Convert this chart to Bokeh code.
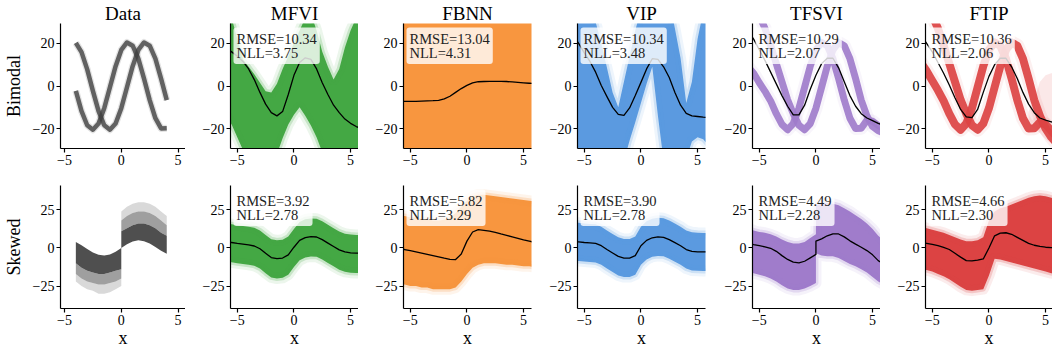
from bokeh.plotting import figure
from bokeh.layouts import gridplot
from bokeh.models import Range1d, FixedTicker, CustomJSTickFormatter, Label
from bokeh.embed import file_html
from bokeh.resources import INLINE

FONT = "Liberation Serif"

# ---------------- data ----------------
X = [-6.0, -5.5, -5.0, -4.5, -4.0, -3.5, -3.0, -2.5, -2.0, -1.5, -1.0, -0.5, 0.0,
     0.5, 1.0, 1.5, 2.0, 2.5, 3.0, 3.5, 4.0, 4.5, 5.0, 5.5, 6.0]
X_JUMP = [-6.0, -5.5, -5.0, -4.5, -4.0, -3.5, -3.0, -2.5, -2.0, -1.5, -1.0, -0.5, 0.0,
          0.0, 0.5, 1.0, 1.5, 2.0, 2.5, 3.0, 3.5, 4.0, 4.5, 5.0, 5.5, 6.0]

# Data panel (bimodal): the two noisy curves
DATA_X = [-4.0, -3.5, -3.0, -2.5, -2.0, -1.5, -1.0, -0.5, 0.0, 0.5, 1.0, 1.5, 2.0, 2.5, 3.0, 3.5, 4.0]
data_bimodal_a = [-2.3, -11.8, -18.4, -20.5, -17.6, -10.4, -0.6, 9.3, 16.9, 20.4, 18.9, 12.8, 3.5, -6.6, -15.1, -19.9, -19.8]
data_bimodal_b = [20.2, 15.9, 7.8, -2.3, -11.8, -18.4, -20.5, -17.6, -10.4, -0.6, 9.3, 16.9, 20.4, 18.9, 12.8, 3.5, -6.6]

# Data panel (skewed)
SKEW_LX = [-4.0, -3.5, -3.0, -2.5, -2.0, -1.5, -1.0, -0.5, 0.0]
skew_l_top = [4.0, 1.8, -0.7, -3.0, -4.5, -5.0, -4.2, -2.4, 0.0]
skew_l_core = [-10, -13, -15, -16, -17, -17, -16, -15, -14]
skew_l_mid = [-17, -20, -22, -23, -24, -24, -23, -22, -20]
skew_l_halo = [-22, -25, -27, -28, -30, -30, -29, -27, -25]
SKEW_RX = [0.0, 0.5, 1.0, 1.5, 2.0, 2.5, 3.0, 3.5, 4.0]
skew_r_bot = [0.0, 2.4, 4.2, 5.0, 4.5, 3.0, 0.7, -1.8, -3.8]
skew_r_core = [11, 13, 15, 16, 16, 15, 13, 10, 8]
skew_r_mid = [18, 21, 23, 24, 24, 23, 21, 18, 15]
skew_r_halo = [24, 27, 29, 30, 30, 29, 27, 24, 21]

# Bimodal row: predictive means and sample clouds
mfvi_top_mean = [18, 16, 14, 11.5, 8, 3, -3, -8.5, -12.5, -14, -12, -4, 5, 11, 13.2, 12.5, 8, 1.5, -4, -9, -12.5, -15.5, -17.5, -19, -20]
mfvi_top_hi = [40, 32, 22, 12.5, 9, 5.5, 1.5, -2.5, -3, 1, 8, 14, 20, 26, 32, 34, 26, 16, 9, 3, 8, 18, 26, 32, 36]
mfvi_top_lo = [-14, -18, -24, -30, -36, -40, -42, -42, -40, -32, -24.5, -18, -13.5, -10, -14, -18.5, -24, -31, -37, -40, -40, -38, -35, -32, -28]

fbnn_top_mean = [-7.2, -7.2, -7.2, -7.2, -7.1, -7, -6.9, -6.7, -6, -4.8, -3, -1.2, 0.3, 1.5, 2, 2.1, 2.2, 2.2, 2.2, 2.1, 1.9, 1.7, 1.5, 1.3, 1.1]
fbnn_top_hi = [35, 35, 35, 35, 35, 35, 35, 35, 35, 35, 35, 35, 35, 35, 35, 35, 35, 35, 35, 35, 35, 35, 35, 35, 35]
fbnn_top_lo = [-35, -35, -35, -35, -35, -35, -35, -35, -35, -35, -35, -35, -35, -35, -35, -35, -35, -35, -35, -35, -35, -35, -35, -35, -35]

vip_top_mean = [24, 20, 15.5, 11.5, 6.5, 0.2, -5, -10, -13.3, -13.8, -10.3, -4.5, 1.7, 8, 12.8, 12.5, 9, 4, -3, -9, -12.8, -14, -14.3, -14.6, -14.8]
vip_top_hi = [45, 42, 38, 34, 30, 20, 8.5, -3, -10, 2, 14, 26, 36, 42, 45, 45, 44, 40, 27, 13, -8, 2, 22, 35, 45]
vip_top_lo = [-40, -40, -38, -36, -36, -38, -40, -40, -40, -35, -25.5, -17, -8, 1, 9, -14, -35, -40, -40, -38, -34, -26, -24, -25, -28]

tfsvi_top_mean = [26, 22, 17, 12, 6.5, 1, -4.5, -9.5, -13.5, -13.5, -9, -1.5, 5, 10.5, 13, 13, 8.5, 2, -4.5, -9.5, -13, -15, -16.2, -17.5, -18.5]
tfsvi_top_a = [9, 6, 1.5, -2.5, -7, -13, -18, -20.5, -17.6, -10.4, -0.6, 9.3, 16.9, 20.4, 18.9, 12.8, 3.5, -6.6, -15.1, -19.9, -19.8, -16, -16.5, -18.5, -20]
tfsvi_top_b = [44, 38, 33, 27, 19, 10.5, 2, -6.5, -13, -18.4, -20.5, -17.6, -10.4, -0.6, 9.3, 16.9, 20.4, 18.9, 12.8, 3.5, -6.6, -14, -19, -21, -22]

ftip_top_mean = [24, 20, 16, 11, 6, 0.5, -5.5, -11, -14.5, -14.8, -11, -3, 4.5, 10, 13, 13, 9, 3.5, -3, -8.5, -12.5, -15, -16, -16.8, -17.5]
ftip_top_a = [11, 7, 2.5, -2, -7, -13, -18, -20.5, -17.6, -10.4, -0.6, 9.3, 16.9, 20.4, 18.9, 12.8, 3.5, -6.6, -15.1, -19.9, -19.8, -17, -18, -21, -24]
ftip_top_b = [44, 38, 33, 27, 19, 10.5, 2, -6.5, -13, -18.4, -20.5, -17.6, -10.4, -0.6, 9.3, 16.9, 20.4, 18.9, 12.8, 3.5, -6.6, -14, -20, -24, -27]
FTIP_HAZE_X = [3.5, 4.0, 4.5, 5.0, 5.5, 6.0]
ftip_haze_hi = [-12, -6, 2, 5, 6, 6]
ftip_haze_lo = [-18, -20, -22, -25, -27, -29]

# Skewed row
mfvi_bot_mean = [4, 3.6, 3, 2.5, 2, 1.3, -0.5, -3.5, -6.3, -7, -6.6, -4.5, 0.5, 5, 6.8, 7.4, 7.2, 5.5, 3.2, 1, -1.2, -2.6, -3.2, -3.4, -3.5]
mfvi_bot_hi = [16, 15.6, 15, 14.5, 14, 13.3, 11.5, 8.5, 5.7, 5, 5.4, 7.5, 12.5, 17, 18.8, 19.4, 19.2, 17.5, 15.2, 13, 10.8, 9.4, 8.8, 8.6, 8.5]
mfvi_bot_lo = [-9, -9.4, -10, -10.5, -11, -11.7, -13.5, -16.5, -19.3, -20, -19.6, -17.5, -12.5, -8, -6.2, -5.6, -5.8, -7.5, -9.8, -12, -14.2, -15.6, -16.2, -16.4, -16.5]

fbnn_bot_mean = [-0.5, -1, -1.8, -2.6, -3.4, -4.2, -5, -5.8, -6.7, -7.5, -7.6, -4, 4.5, 10.5, 12, 11.6, 11, 10.2, 9.2, 8.3, 7.3, 6.3, 5.3, 4.5, 3.7]
fbnn_bot_hi = [21, 21, 20, 20, 19, 19, 18, 18, 18.5, 20, 23, 27, 31, 34, 35, 35, 34.5, 34, 33.5, 33, 32.5, 32, 31.5, 31, 30.5]
fbnn_bot_lo = [-24, -24, -25, -25, -26, -26, -27, -27, -27, -27, -26, -22, -17, -13, -11, -10, -10, -10, -10.5, -11, -11, -11.5, -12, -12, -12.5]

vip_bot_mean = [4.2, 4, 3.6, 3.3, 3, 1.5, -1, -3.3, -5.5, -6.6, -6.6, -5, 1.5, 5, 6.7, 7.3, 7, 5.5, 3.5, 1.5, -1, -2.2, -2.5, -2.6, -2.6]
vip_bot_hi = [16.7, 16.5, 16.1, 15.8, 15.5, 14, 11.5, 9.2, 7, 5.9, 5.9, 7.5, 14, 17.5, 19.2, 19.8, 19.5, 18, 16, 14, 11.5, 10.3, 10, 9.9, 9.9]
vip_bot_lo = [-8.3, -8.5, -8.9, -9.2, -9.5, -11, -13.5, -15.8, -18, -19.1, -19.1, -17.5, -11, -7.5, -5.8, -5.2, -5.5, -7, -9, -11, -13.5, -14.7, -15, -15.1, -15.1]

tfsvi_bot_mean = [3, 2.2, 1.5, 0.8, -0.2, -2.2, -5, -7.5, -9.3, -9.8, -8.7, -6.5, -4.2,
                  4.5, 6, 8, 9.3, 9.2, 7.3, 4.7, 2.5, 0.5, -1.7, -4.5, -8.3, -10.5]
tfsvi_bot_hi = [13, 11.5, 10.5, 10, 9, 7.5, 5.5, 4, 3, 3, 4, 6.5, 9,
                28, 29, 29.5, 29, 28, 26, 24, 21.5, 19, 16, 12.5, 8, 5]
tfsvi_bot_lo = [-16, -16.5, -17.5, -18.5, -20, -22, -24.5, -26.5, -27.5, -27.5, -26.5, -25, -23,
                -3.5, -5, -5.5, -5.5, -6.5, -8.5, -10.5, -12, -14, -16, -19, -22, -24]

ftip_bot_mean = [3.6, 3, 2.3, 1.5, 0.4, -1, -3.5, -6, -8.3, -8.5, -8, -7.2, 0, 8, 9.8, 10, 9, 7, 5, 3, 1.8, 1, 0.5, 0.3, 0.2]
ftip_bot_hi = [14, 13, 12, 11, 10, 8.5, 7, 5.5, 4.5, 4.5, 5, 7, 18, 24, 26, 27, 28.5, 30, 31.5, 33, 34, 34.5, 34, 33, 32]
ftip_bot_lo = [-14, -14.5, -15.5, -17, -18.5, -20.5, -23, -25.5, -27.5, -28, -27.5, -27, -18, -7, -7.5, -8.5, -9.5, -10.5, -11.5, -12.5, -13.5, -14.5, -15.5, -16.5, -17]

TITLES = ["Data", "MFVI", "FBNN", "VIP", "TFSVI", "FTIP"]
ROWS = ["Bimodal", "Skewed"]
rmse_bimodal = [10.34, 13.04, 10.34, 10.29, 10.36]
nll_bimodal = [3.75, 4.31, 3.48, 2.07, 2.06]
rmse_skewed = [3.92, 5.82, 3.90, 4.49, 4.66]
nll_skewed = [2.78, 3.29, 2.78, 2.28, 2.30]

GRAY = "#404040"
GREEN = "#44a844"
ORANGE = "#f8963f"
BLUE = "#5b9ae0"
PURPLE = "#a07ccb"
RED = "#dc4343"

BL = [57, 45, 45, 45, 45, 45]
FW = [128, 128, 128, 128, 128, 127]
BR = [0, 0, 1, 2, 0, 0]


def base_fig(col, row):
    bl, fw, br = BL[col], FW[col], BR[col]
    if col == 0:
        xr = (-5.35, 5.65)
    elif col == 5:
        xr = (-5.6, 5.61)
    else:
        xr = (-5.6, 5.7)
    if row == 0:
        yr = (-29.3, 29.3)
        height = 173
        bt, bb = 0, 25
        title = TITLES[col]
    else:
        yr = (-39.7, 41)
        height = 177
        bt, bb = 12, 39
        title = None
    p = figure(width=bl + fw + br, height=height, title=title,
               x_range=Range1d(*xr), y_range=Range1d(*yr),
               output_backend="svg", toolbar_location=None,
               min_border=0, min_border_left=bl, min_border_right=br,
               min_border_top=bt, min_border_bottom=bb)
    if title is not None:
        p.title.align = "center"
        p.title.text_font = FONT
        p.title.text_font_size = "19px"
        p.title.text_font_style = "normal"
        p.title.text_color = "black"
        p.title.standoff = 0
        p.title.offset = 0
    p.outline_line_color = None
    p.xgrid.visible = False
    p.ygrid.visible = False
    p.background_fill_color = "white"
    p.border_fill_color = "white"
    fmt = CustomJSTickFormatter(code="return tick < 0 ? '\u2212' + (-tick) : String(tick);")
    p.xaxis.ticker = FixedTicker(ticks=[-5, 0, 5])
    p.yaxis.ticker = FixedTicker(ticks=[-20, 0, 20] if row == 0 else [-25, 0, 25])
    for ax in (p.xaxis[0], p.yaxis[0]):
        ax.formatter = fmt
        ax.major_tick_out = 4
        ax.major_tick_in = 0
        ax.minor_tick_out = 0
        ax.minor_tick_in = 0
        ax.axis_line_color = "black"
        ax.axis_line_width = 1.2
        ax.major_tick_line_color = "black"
        ax.major_tick_line_width = 1.2
        ax.major_label_text_font = FONT
        ax.major_label_text_font_size = "14px"
        ax.major_label_text_color = "black"
        ax.major_label_standoff = 2
        ax.axis_label_text_font = FONT
        ax.axis_label_text_font_size = "18px"
        ax.axis_label_text_font_style = "normal"
        ax.axis_label_text_color = "black"
    if row == 1:
        p.xaxis.axis_label = "x"
        p.xaxis.axis_label_standoff = 0
    if col == 0:
        p.yaxis.axis_label = ROWS[row]
        p.yaxis.axis_label_standoff = 6
    return p


def band(p, x, lo, hi, color):
    p.varea(x=x, y1=lo, y2=hi, fill_color=color, fill_alpha=1.0)
    for yy in (hi, lo):
        p.line(x, yy, line_color=color, line_width=11, line_alpha=0.1, line_join="round")
        p.line(x, yy, line_color=color, line_width=5, line_alpha=0.22, line_join="round")


def thick(p, x, y, color, w):
    p.line(x, y, line_color=color, line_width=w + 6, line_alpha=0.08, line_join="round", line_cap="round")
    p.line(x, y, line_color=color, line_width=w, line_alpha=0.92, line_join="round", line_cap="round")


def mean_line(p, x, y):
    p.line(x, y, line_color="black", line_width=1.3, line_join="round")


def metrics(p, rmse, nll):
    p.add_layout(Label(x=3, y=p.y_range.end, x_units="screen", y_units="data",
                       y_offset=-4,
                       text="RMSE=%.2f\nNLL=%.2f" % (rmse, nll),
                       text_align="left", text_baseline="top",
                       text_font=FONT, text_font_size="14.5px", text_color="#222222",
                       text_line_height=0.9,
                       background_fill_color="white", background_fill_alpha=0.8,
                       padding=3, border_radius=3))


rows = []
for r in range(2):
    figs = []
    for c in range(6):
        p = base_fig(c, r)
        if r == 0:
            if c == 0:
                for yy in (data_bimodal_a, data_bimodal_b):
                    p.line(DATA_X, yy, line_color=GRAY, line_width=7, line_alpha=0.15, line_join="round")
                    p.line(DATA_X, yy, line_color=GRAY, line_width=4.5, line_alpha=0.8, line_join="round")
            elif c == 1:
                band(p, X, mfvi_top_lo, mfvi_top_hi, GREEN)
                mean_line(p, X, mfvi_top_mean)
            elif c == 2:
                band(p, X, fbnn_top_lo, fbnn_top_hi, ORANGE)
                mean_line(p, X, fbnn_top_mean)
            elif c == 3:
                band(p, X, vip_top_lo, vip_top_hi, BLUE)
                mean_line(p, X, vip_top_mean)
            elif c == 4:
                thick(p, X, tfsvi_top_a, PURPLE, 7)
                thick(p, X, tfsvi_top_b, PURPLE, 7)
                mean_line(p, X, tfsvi_top_mean)
            else:
                p.varea(x=FTIP_HAZE_X, y1=ftip_haze_lo, y2=ftip_haze_hi, fill_color=RED, fill_alpha=0.12)
                thick(p, X, ftip_top_a, RED, 8)
                thick(p, X, ftip_top_b, RED, 8)
                mean_line(p, X, ftip_top_mean)
            if c > 0:
                metrics(p, rmse_bimodal[c - 1], nll_bimodal[c - 1])
        else:
            if c == 0:
                p.varea(x=SKEW_LX, y1=skew_l_halo, y2=skew_l_mid, fill_color=GRAY, fill_alpha=0.2)
                p.varea(x=SKEW_LX, y1=skew_l_mid, y2=skew_l_core, fill_color=GRAY, fill_alpha=0.5)
                p.varea(x=SKEW_LX, y1=skew_l_core, y2=skew_l_top, fill_color=GRAY, fill_alpha=0.92)
                p.varea(x=SKEW_RX, y1=skew_r_mid, y2=skew_r_halo, fill_color=GRAY, fill_alpha=0.2)
                p.varea(x=SKEW_RX, y1=skew_r_core, y2=skew_r_mid, fill_color=GRAY, fill_alpha=0.5)
                p.varea(x=SKEW_RX, y1=skew_r_bot, y2=skew_r_core, fill_color=GRAY, fill_alpha=0.92)
            elif c == 1:
                band(p, X, mfvi_bot_lo, mfvi_bot_hi, GREEN)
                mean_line(p, X, mfvi_bot_mean)
            elif c == 2:
                band(p, X, fbnn_bot_lo, fbnn_bot_hi, ORANGE)
                mean_line(p, X, fbnn_bot_mean)
            elif c == 3:
                band(p, X, vip_bot_lo, vip_bot_hi, BLUE)
                mean_line(p, X, vip_bot_mean)
            elif c == 4:
                band(p, X_JUMP, tfsvi_bot_lo, tfsvi_bot_hi, PURPLE)
                mean_line(p, X_JUMP, tfsvi_bot_mean)
            else:
                band(p, X, ftip_bot_lo, ftip_bot_hi, RED)
                mean_line(p, X, ftip_bot_mean)
            if c > 0:
                metrics(p, rmse_skewed[c - 1], nll_skewed[c - 1])
        figs.append(p)
    rows.append(figs)

grid = gridplot(rows, toolbar_location=None)
open("out.html", "w").write(file_html(grid, INLINE))
